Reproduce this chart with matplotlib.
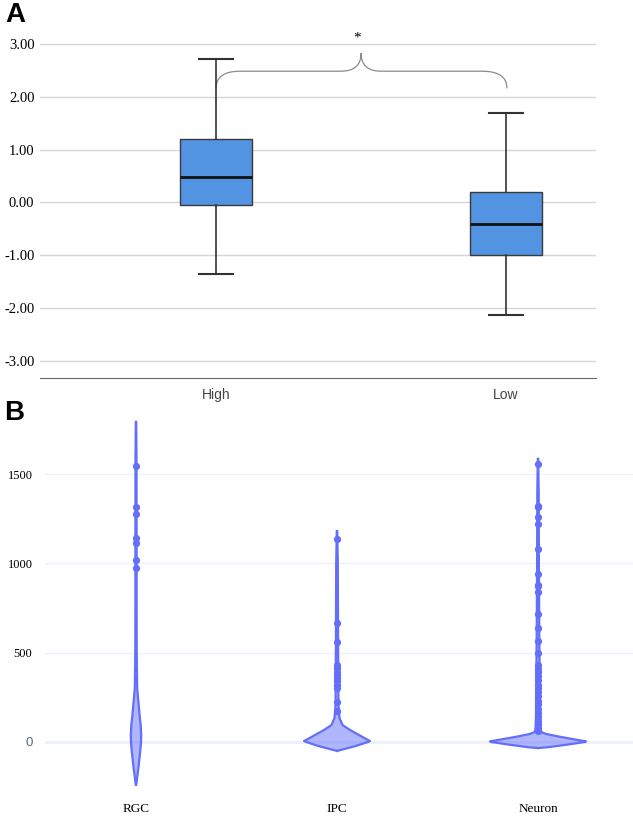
import matplotlib.pyplot as plt
from matplotlib.path import Path
from matplotlib.patches import PathPatch
import numpy as np

# ---- panel A data (box plot) ----
groups = ['High', 'Low']
whislo = [-1.35, -2.13]
q1 = [-0.04, -0.99]
med = [0.49, -0.40]
q3 = [1.21, 0.19]
whishi = [2.71, 1.69]
yticksA = [3, 2, 1, 0, -1, -2, -3]

# ---- panel B data (violins) ----
cells = ['RGC', 'IPC', 'Neuron']
# outline of each violin: value and half width in pixels
rgc_y = [-240, -150, -50, 0, 40, 100, 150, 230, 300, 500, 800, 1200, 1600, 1792]
rgc_w = [0.2, 2.3, 4.3, 5.0, 5.2, 4.6, 3.6, 2.3, 1.2, 0.7, 0.6, 0.6, 0.5, 0.2]
ipc_y = [-50, -40, -22, 0, 5, 20, 39, 67, 95, 134, 200, 400, 700, 1000, 1181]
ipc_w = [0, 7, 19, 31, 33, 28, 22, 13, 5.5, 2.5, 1.5, 1.2, 1.0, 0.8, 0.2]
neu_y = [-34, -30, -15, 0, 3, 15, 30, 45, 55, 70, 150, 300, 600, 1000, 1400, 1585]
neu_w = [0, 9, 29, 47, 48, 36, 21, 8, 3.5, 2.5, 2.0, 1.8, 1.3, 0.9, 0.7, 0.2]
rgc_pts = [1545, 1316, 1276, 1142, 1114, 1019, 975]
ipc_pts = [1137, 666, 560, 431, 414, 392, 375, 358, 341, 319, 302, 224, 174]
neu_pts = [1556, 1321, 1314, 1260, 1221, 1081, 941, 879, 871, 840, 717, 638,
           565, 498, 430, 410, 390, 370, 345, 320, 300, 280, 255, 230, 210,
           185, 160, 140, 120, 100, 80, 60]
yticksB = [0, 500, 1000, 1500]

serif = 'Liberation Serif'
sans = 'Liberation Sans'

fig = plt.figure(figsize=(6.33, 8.16), dpi=100)

# ================= panel A =================
axA = fig.add_axes([40/633, (816-378)/816, 556/633, 350/816])
stats = []
for i in range(len(groups)):
    stats.append(dict(med=med[i], q1=q1[i], q3=q3[i], whislo=whislo[i],
                      whishi=whishi[i], fliers=[], label=groups[i]))
axA.bxp(stats, positions=[0, 1], widths=0.248, capwidths=0.12,
        patch_artist=True, showfliers=False,
        boxprops=dict(facecolor='#5294e2', edgecolor='#3a3a3a', lw=1),
        medianprops=dict(color='#111111', lw=2),
        whiskerprops=dict(color='#333333', lw=1.2),
        capprops=dict(color='#333333', lw=1.5))
axA.set_xlim(-0.607, 1.310)
axA.set_ylim(-3.323, 3.304)
axA.set_yticks(yticksA, ['%.2f' % v for v in yticksA])
axA.grid(axis='y', color='#d6d6d6', lw=1)
axA.set_axisbelow(True)
for s in ['top', 'right', 'left']:
    axA.spines[s].set_visible(False)
axA.spines['bottom'].set_color('#666666')
axA.tick_params(axis='both', length=0)
axA.tick_params(axis='y', pad=4, labelsize=10.5)
axA.tick_params(axis='x', pad=7, labelsize=10, labelcolor='#444444')
for t in axA.get_yticklabels():
    t.set_fontfamily(serif)
for t in axA.get_xticklabels():
    t.set_fontfamily(sans)

# significance bracket
verts = [(0, 2.163), (0, 2.486), (0.083, 2.486),
         (0.431, 2.486),
         (0.5, 2.486), (0.5, 2.827),
         (0.5, 2.486), (0.569, 2.486),
         (0.917, 2.486),
         (1.003, 2.486), (1.003, 2.163)]
codes = [Path.MOVETO, Path.CURVE3, Path.CURVE3,
         Path.LINETO,
         Path.CURVE3, Path.CURVE3,
         Path.CURVE3, Path.CURVE3,
         Path.LINETO,
         Path.CURVE3, Path.CURVE3]
axA.add_patch(PathPatch(Path(verts, codes), fc='none', ec='#8a8a8a', lw=0.9))
axA.text(0.485, 3.0, '*', ha='center', va='bottom', fontsize=11, family=serif)

fig.text(5/633, 1-15/816, 'A', fontsize=20, fontweight='bold', family=sans,
         va='center', ha='left')

# ================= panel B =================
axB = fig.add_axes([45/633, (816-790)/816, 588/633, 385/816])
px = 201.0  # pixels per category unit
vcol = '#636efa'
profiles = [(rgc_y, rgc_w, rgc_pts), (ipc_y, ipc_w, ipc_pts), (neu_y, neu_w, neu_pts)]
for i, (yy, ww, pts) in enumerate(profiles):
    half = np.array(ww) / px
    axB.fill_betweenx(yy, i - half, i + half, color=vcol, alpha=0.5, lw=0)
    axB.plot(i - half, yy, color=vcol, lw=1.6)
    axB.plot(i + half, yy, color=vcol, lw=1.6)
    axB.plot([i] * len(pts), pts, 'o', color=vcol, ms=5.2, mec='none')

axB.set_xlim(-(136-45)/px, (633-136)/px)
axB.set_ylim(-269, 1887)
axB.set_xticks(range(len(cells)), cells)
axB.set_yticks(yticksB, [str(v) for v in yticksB])
axB.grid(axis='y', color='#eef1fb', lw=1)
axB.axhline(0, color='#e8edf8', lw=1.8, zorder=0)
axB.set_axisbelow(True)
for s in axB.spines.values():
    s.set_visible(False)
axB.tick_params(axis='both', length=0)
axB.tick_params(axis='y', pad=9, labelsize=9)
axB.tick_params(axis='x', pad=9, labelsize=9.5)
for t in axB.get_xticklabels():
    t.set_fontfamily(serif)
for t in axB.get_yticklabels():
    if t.get_text() == '0':
        t.set_fontfamily(sans)
        t.set_color('#506784')
        t.set_fontsize(9.5)
    else:
        t.set_fontfamily(serif)

fig.text(4/633, 1-413/816, 'B', fontsize=20, fontweight='bold', family=sans,
         va='center', ha='left')

fig.savefig('out.png', dpi=100)
